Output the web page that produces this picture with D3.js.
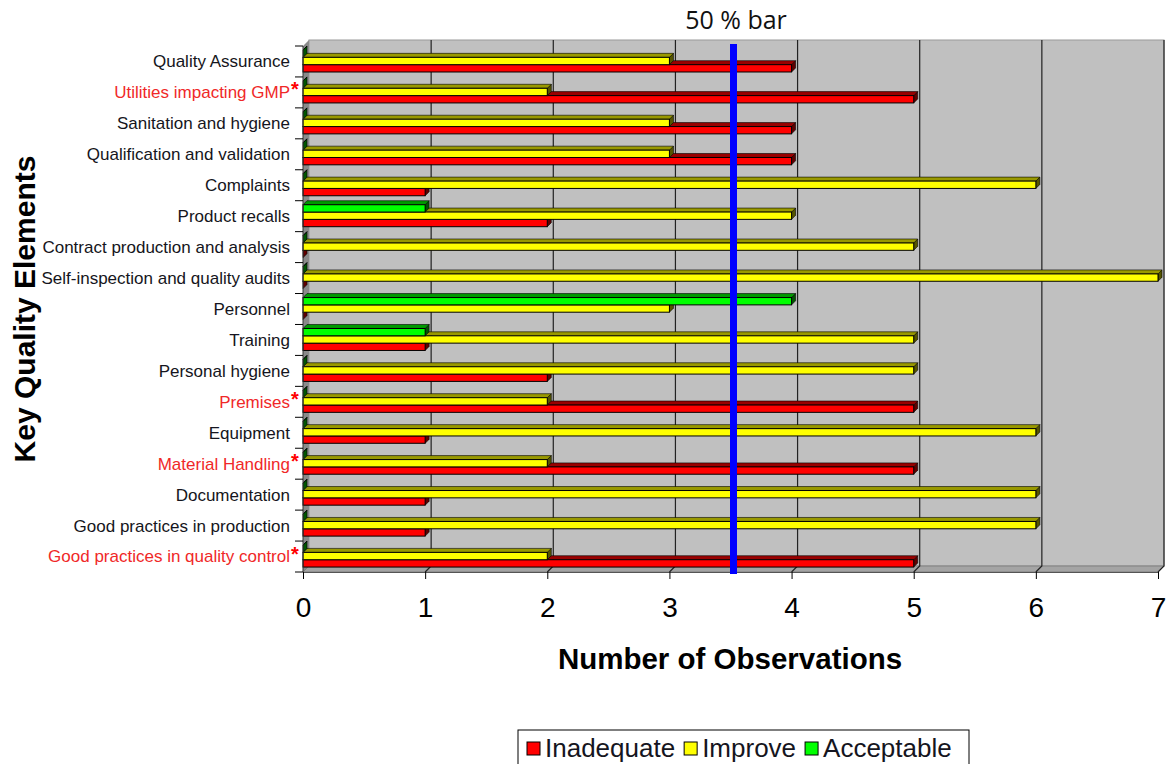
<!DOCTYPE html>
<html>
<head>
<meta charset="utf-8">
<script src="https://cdn.jsdelivr.net/npm/d3@7"></script>
<style>
    body { margin: 0; background: #fff; }
    svg { display: block; }
</style>
</head>
<body>
<svg id="chart" width="1168" height="764"></svg>
<script>
var categories = [
    "Quality Assurance", "Utilities impacting GMP", "Sanitation and hygiene",
    "Qualification and validation", "Complaints", "Product recalls",
    "Contract production and analysis", "Self-inspection and quality audits",
    "Personnel", "Training", "Personal hygiene", "Premises", "Equipment",
    "Material Handling", "Documentation", "Good practices in production",
    "Good practices in quality control"
];
var starred = ["Utilities impacting GMP", "Premises", "Material Handling", "Good practices in quality control"];
var inadequate = [4, 5, 4, 4, 1, 2, 0, 0, 0, 1, 2, 5, 1, 5, 1, 1, 5];
var improve    = [3, 2, 3, 3, 6, 4, 5, 7, 3, 5, 5, 2, 6, 2, 6, 6, 2];
var acceptable = [0, 0, 0, 0, 0, 1, 0, 0, 4, 1, 0, 0, 0, 0, 0, 0, 0];
var seriesNames = ["Inadequate", "Improve", "Acceptable"];
var xTicks = [0, 1, 2, 3, 4, 5, 6, 7];
var halfMark = 3.5;

(function () {
    var svg = d3.select("#chart"),
        x0 = 303, x1 = 1158, yTop = 46, yBot = 572,
        depth = 6, bd = 4;

    var colors = {
        Inadequate: { front: "#ff0000", top: "#990000", side: "#600000" },
        Improve:    { front: "#ffff00", top: "#999900", side: "#555500" },
        Acceptable: { front: "#00ff00", top: "#009900", side: "#005500" }
    };

    var x = d3.scaleLinear().domain([0, 7]).range([x0, x1]);
    var y = d3.scaleBand().domain(categories).range([yTop, yBot]).padding(0);
    var ys = d3.scaleBand()
        .domain(["Acceptable", "Improve", "Inadequate"])
        .range([y.bandwidth() * 0.13, y.bandwidth() * 0.84]);

    // back wall
    svg.append("rect")
        .attr("x", x0 + depth).attr("y", yTop - depth)
        .attr("width", x1 - x0).attr("height", yBot - yTop)
        .attr("fill", "#c0c0c0").attr("stroke", "#9a9a9a");

    // left wall
    svg.append("path")
        .attr("d", "M" + x0 + "," + yTop + "L" + (x0 + depth) + "," + (yTop - depth) +
            "L" + (x0 + depth) + "," + (yBot - depth) + "L" + x0 + "," + yBot + "Z")
        .attr("fill", "#8a8a8a");

    // floor
    svg.append("path")
        .attr("d", "M" + x0 + "," + yBot + "L" + (x0 + depth) + "," + (yBot - depth) +
            "L" + (x1 + depth) + "," + (yBot - depth) + "L" + x1 + "," + yBot + "Z")
        .attr("fill", "#a4a4a4").attr("stroke", "#808080");

    // gridlines
    svg.selectAll(".grid")
        .data(xTicks.slice(1))
        .enter().append("path")
        .attr("class", "grid")
        .attr("d", function (d) {
            return "M" + (x(d) + depth) + "," + (yTop - depth) + "L" + (x(d) + depth) + "," + (yBot - depth) +
                "L" + x(d) + "," + yBot;
        })
        .attr("fill", "none")
        .attr("stroke", "#222")
        .attr("stroke-width", 1.2);

    // bars: bottom series first so upper bars cover the hidden top faces
    var values = { Inadequate: inadequate, Improve: improve, Acceptable: acceptable };
    seriesNames.forEach(function (s) {
        var c = colors[s];
        var g = svg.append("g").attr("class", "series");
        var bars = g.selectAll("g")
            .data(categories.map(function (cat, i) { return { cat: cat, v: values[s][i] }; }))
            .enter().append("g");

        bars.each(function (d) {
            var b = d3.select(this),
                xe = x(d.v),
                y0 = y(d.cat) + ys(s),
                h = ys.bandwidth();
            b.append("path")
                .attr("d", "M" + xe + "," + y0 + "L" + (xe + bd) + "," + (y0 - bd) +
                    "L" + (xe + bd) + "," + (y0 + h - bd) + "L" + xe + "," + (y0 + h) + "Z")
                .attr("fill", c.side).attr("stroke", "#000").attr("stroke-width", 0.6);
            b.append("path")
                .attr("d", "M" + x0 + "," + y0 + "L" + (x0 + bd) + "," + (y0 - bd) +
                    "L" + (xe + bd) + "," + (y0 - bd) + "L" + xe + "," + y0 + "Z")
                .attr("fill", c.top).attr("stroke", "#000").attr("stroke-width", 0.6);
            if (d.v > 0) {
                b.append("rect")
                    .attr("x", x0).attr("y", y0)
                    .attr("width", xe - x0).attr("height", h)
                    .attr("fill", c.front).attr("stroke", "#000").attr("stroke-width", 1);
            }
        });
    });

    // left axis line and band ticks
    svg.append("line")
        .attr("x1", x0).attr("x2", x0).attr("y1", yTop).attr("y2", yBot)
        .attr("stroke", "#333");
    svg.selectAll(".ytick")
        .data(categories.map(function (c) { return y(c); }).concat([yBot]))
        .enter().append("line")
        .attr("class", "ytick")
        .attr("x1", x0 - 8).attr("x2", x0)
        .attr("y1", function (d) { return d; }).attr("y2", function (d) { return d; })
        .attr("stroke", "#000");

    // category labels
    var labels = svg.selectAll(".cat")
        .data(categories)
        .enter().append("g")
        .attr("class", "cat")
        .attr("transform", function (d) { return "translate(290," + (y(d) + y.bandwidth() / 2) + ")"; });
    labels.append("text")
        .attr("text-anchor", "end")
        .attr("dy", "0.35em")
        .style("font-family", "Liberation Sans, Arial, sans-serif")
        .style("font-size", "17px")
        .attr("fill", function (d) { return starred.indexOf(d) >= 0 ? "#f02828" : "#151520"; })
        .text(function (d) { return d; });
    labels.filter(function (d) { return starred.indexOf(d) >= 0; })
        .append("text")
        .attr("x", 1).attr("y", 4)
        .style("font-family", "Liberation Sans, Arial, sans-serif")
        .style("font-size", "20px")
        .style("font-weight", "bold")
        .attr("fill", "#ff0000")
        .text("*");

    // x axis
    var xAxis = svg.append("g")
        .attr("transform", "translate(0," + yBot + ")")
        .call(d3.axisBottom(x).tickValues(xTicks).tickFormat(d3.format("d"))
            .tickSize(7).tickPadding(18).tickSizeOuter(0));
    xAxis.select(".domain").attr("stroke", "#555");
    xAxis.selectAll("text")
        .style("font-family", "Liberation Sans, Arial, sans-serif")
        .style("font-size", "28px")
        .attr("fill", "#000");

    // 50 % bar
    svg.append("rect")
        .attr("x", x(halfMark) + 3 - 3.5).attr("y", 44)
        .attr("width", 7).attr("height", 574 - 44)
        .attr("fill", "#0000ff");
    svg.append("text")
        .attr("x", 736).attr("y", 29)
        .attr("text-anchor", "middle")
        .style("font-family", "Open Sans, sans-serif")
        .style("font-size", "25px")
        .attr("fill", "#111")
        .text("50 % bar");

    // axis titles
    svg.append("text")
        .attr("x", 730).attr("y", 669)
        .attr("text-anchor", "middle")
        .style("font-family", "Liberation Sans, Arial, sans-serif")
        .style("font-size", "29.5px")
        .style("font-weight", "bold")
        .text("Number of Observations");
    svg.append("text")
        .attr("transform", "translate(35,309) rotate(-90)")
        .attr("text-anchor", "middle")
        .style("font-family", "Liberation Sans, Arial, sans-serif")
        .style("font-size", "30px")
        .style("font-weight", "bold")
        .text("Key Quality Elements");

    // legend
    var legend = svg.append("g");
    legend.append("rect")
        .attr("x", 518).attr("y", 730).attr("width", 451).attr("height", 44)
        .attr("fill", "#fff").attr("stroke", "#000");
    var lx = 527;
    seriesNames.forEach(function (s) {
        legend.append("rect")
            .attr("x", lx).attr("y", 742).attr("width", 13).attr("height", 13)
            .attr("fill", colors[s].front).attr("stroke", "#000");
        var t = legend.append("text")
            .attr("x", lx + 18).attr("y", 757)
            .style("font-family", "Liberation Sans, Arial, sans-serif")
            .style("font-size", "26px")
            .attr("fill", "#151520")
            .text(s);
        lx += 18 + t.node().getComputedTextLength() + 9;
    });
})();
</script>
</body>
</html>
